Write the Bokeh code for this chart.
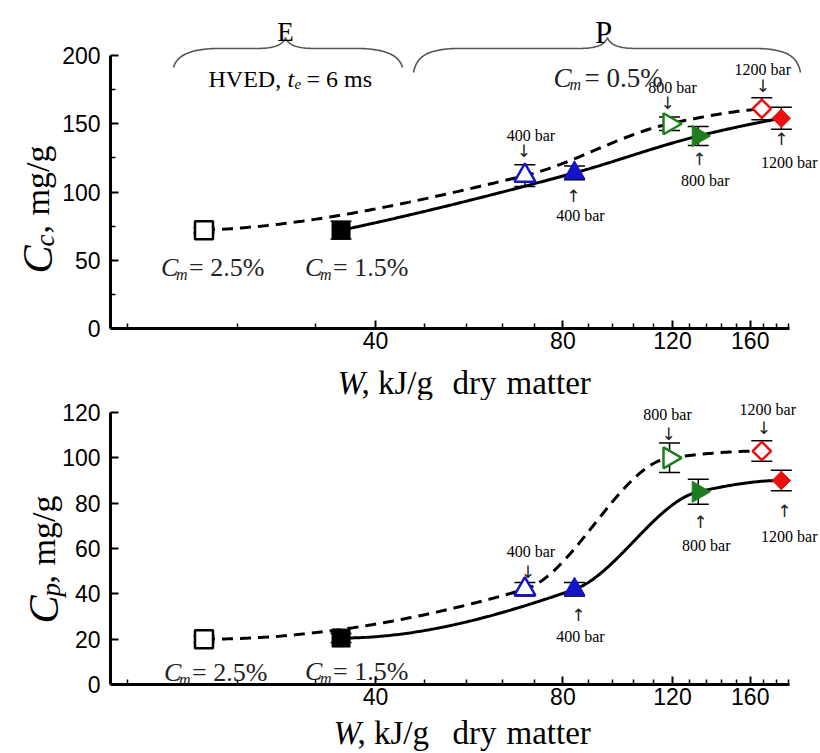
import numpy as np
from bokeh.plotting import figure
from bokeh.models import ColumnDataSource, FixedTicker, PrintfTickFormatter, Whisker, TeeHead, LogAxis, LinearAxis
from bokeh.layouts import column
from bokeh.embed import file_html
from bokeh.resources import INLINE
from bokeh.core.properties import value

# ---------------- data ----------------
# order of points: [HVED (square), 400 bar, 800 bar, 1200 bar]
W_open = [21.2, 69.5, 118.7, 167.0]       # kJ/g dry matter, open symbols (dashed curve)
W_filled = [35.2, 83.5, 132.0, 179.5]     # kJ/g dry matter, filled symbols (solid curve)
Cc_open = [72, 112, 150, 161]
Cc_open_err = [2, 8, 5, 8]
Cc_filled = [72, 114, 141, 154]
Cc_filled_err = [6.5, 5, 7, 8]
Cp_open = [20, 42, 100, 103]
Cp_open_err = [1.5, 3, 6.5, 4.5]
Cp_filled = [20.5, 42, 85, 90]
Cp_filled_err = [2, 3, 5.5, 4.5]
pressures = ["400 bar", "800 bar", "1200 bar"]
cm_hved = ["2.5%", "1.5%"]
cm_pef = "0.5%"
x_major = [40, 80, 120, 160]
x_minor = [16, 24, 32, 48, 56, 64, 72, 88, 96, 104, 112, 128, 136, 144, 152, 168, 176, 184]
yc_major = [0, 50, 100, 150, 200]
yc_minor = [25, 75, 125, 175]
yp_major = [0, 20, 40, 60, 80, 100, 120]

# ---------------- styles / layout ----------------
colors = ["black", "#1414C8", "#1E7D1E", "#EA1010"]
markers = ["square", "triangle", "triangle", "square"]
angles = [0.0, 0.0, -np.pi / 2, np.pi / 4]
sizes = [18, 21, 21, 13]
SERIF = "Liberation Serif"
SANS = "Liberation Sans"

WIDTH = 820
TOP_H = 400
BOT_H = 353
X_AX0, X_AX1 = 15, 185
PX_DEC = 622.3
TOP_PXU = 273 / 200.0
BOT_PXU = 272 / 120.0


def px2x(px):
    return X_AX0 * 10 ** ((px - 110) / PX_DEC)


def top_y(py):
    return (328 - py) / TOP_PXU


def bot_y(py):
    return (684 - py) / BOT_PXU


def pchip(x, y, xq):
    x = np.asarray(x, float)
    y = np.asarray(y, float)
    h = np.diff(x)
    d = np.diff(y) / h
    n = len(x)
    m = np.zeros(n)
    for k in range(1, n - 1):
        if d[k - 1] * d[k] > 0:
            w1 = 2 * h[k] + h[k - 1]
            w2 = h[k] + 2 * h[k - 1]
            m[k] = (w1 + w2) / (w1 / d[k - 1] + w2 / d[k])

    def end(h0, h1, d0, d1):
        mm = ((2 * h0 + h1) * d0 - h0 * d1) / (h0 + h1)
        if np.sign(mm) != np.sign(d0):
            mm = 0.0
        elif np.sign(d0) != np.sign(d1) and abs(mm) > abs(3 * d0):
            mm = 3 * d0
        return mm

    m[0] = end(h[0], h[1], d[0], d[1])
    m[-1] = end(h[-1], h[-2], d[-1], d[-2])
    idx = np.clip(np.searchsorted(x, xq) - 1, 0, n - 2)
    t = (xq - x[idx]) / h[idx]
    h00 = 2 * t**3 - 3 * t**2 + 1
    h10 = t**3 - 2 * t**2 + t
    h01 = -2 * t**3 + 3 * t**2
    h11 = t**3 - t**2
    return h00 * y[idx] + h10 * h[idx] * m[idx] + h01 * y[idx + 1] + h11 * h[idx] * m[idx + 1]


def smooth(xs, ys):
    u = np.log10(xs)
    uq = np.linspace(u[0], u[-1], 240)
    return 10 ** uq, pchip(u, ys, uq)


def gtext(p, x, y, text, size, italic=False, align="left", baseline="alphabetic", dx=0, dy=0,
          font=SERIF, color="black", angle=0.0):
    p.text(x=[x], y=[y], text=[text], x_offset=dx, y_offset=dy, angle=angle, text_font=value(font),
           text_font_size=f"{size}px", text_font_style="italic" if italic else "normal",
           text_align=align, text_baseline=baseline, text_color=color)


def style_axis(ax):
    ax.axis_line_width = 3
    ax.axis_line_color = "black"
    ax.major_tick_in = 8
    ax.major_tick_out = 0
    ax.minor_tick_in = 5
    ax.minor_tick_out = 0
    ax.major_tick_line_width = 2
    ax.minor_tick_line_width = 1.5
    ax.major_tick_line_color = "black"
    ax.minor_tick_line_color = "black"
    ax.major_label_text_font = SANS
    ax.major_label_text_font_size = "23px"
    ax.major_label_text_color = "black"


def make_fig(height, ymap, ybounds, yticks, yminor):
    p = figure(width=WIDTH, height=height, x_axis_type="log",
               x_range=(px2x(0), px2x(WIDTH)), y_range=(ymap(height), ymap(0)),
               x_axis_location=None, y_axis_location=None,
               output_backend="svg", toolbar_location=None,
               min_border=0, min_border_left=0, min_border_right=0, min_border_top=0, min_border_bottom=0)
    p.outline_line_color = None
    p.xgrid.visible = False
    p.ygrid.visible = False
    xa = LogAxis(ticker=FixedTicker(ticks=x_major, minor_ticks=x_minor),
                 formatter=PrintfTickFormatter(format="%d"), fixed_location=0, bounds=(X_AX0, X_AX1))
    ya = LinearAxis(ticker=FixedTicker(ticks=yticks, minor_ticks=yminor), fixed_location=X_AX0, bounds=ybounds)
    style_axis(xa)
    style_axis(ya)
    xa.major_label_standoff = 3
    ya.major_label_standoff = 10
    p.add_layout(xa, "below")
    p.add_layout(ya, "left")
    return p


def cm_label(p, x, y, txt, dx, dy, size=26):
    gtext(p, x, y, "C", size, italic=True, dx=dx, dy=dy, color="#222222")
    gtext(p, x, y, "m", 16, italic=True, dx=dx + 15, dy=dy + 7, color="#222222")
    gtext(p, x, y, "= " + txt, size, dx=dx + 28, dy=dy, color="#222222")


def draw_panel(p, yo, yo_err, yf, yf_err, lab):
    # error bars
    for xs, ys, es in ((W_open, yo, yo_err), (W_filled, yf, yf_err)):
        src = ColumnDataSource(dict(x=xs, lo=[a - b for a, b in zip(ys, es)], hi=[a + b for a, b in zip(ys, es)]))
        w = Whisker(base="x", lower="lo", upper="hi", source=src, line_color="black", line_width=1.5,
                    upper_head=TeeHead(size=21, line_width=1.5, line_color="black"),
                    lower_head=TeeHead(size=21, line_width=1.5, line_color="black"), level="underlay")
        p.add_layout(w)
    # curves
    cx, cy = smooth(W_open, yo)
    p.line(cx, cy, line_color="black", line_width=3, line_dash="11 7")
    cx, cy = smooth(W_filled, yf)
    p.line(cx, cy, line_color="black", line_width=3)
    # markers
    src_o = ColumnDataSource(dict(x=W_open, y=yo, m=markers, a=angles, c=colors, s=sizes))
    p.scatter("x", "y", source=src_o, marker="m", angle="a", size="s", line_color="c",
              fill_color="white", line_width=2.5)
    src_f = ColumnDataSource(dict(x=W_filled, y=yf, m=markers, a=angles, c=colors, s=sizes))
    p.scatter("x", "y", source=src_f, marker="m", angle="a", size="s", line_color="c",
              fill_color="c", line_width=1)
    # pressure annotations
    for i, txt in enumerate(pressures):
        tdx, tdy, adx, ady = lab["open"][i]
        gtext(p, W_open[i + 1], yo[i + 1], txt, 16, align="center", baseline="middle", dx=tdx, dy=tdy)
        gtext(p, W_open[i + 1], yo[i + 1], "\u2193", 17, align="center", baseline="middle", dx=adx, dy=ady,
              font="DejaVu Sans", color="#222222")
        tdx, tdy, adx, ady = lab["filled"][i]
        gtext(p, W_filled[i + 1], yf[i + 1], txt, 16, align="center", baseline="middle", dx=tdx, dy=tdy)
        gtext(p, W_filled[i + 1], yf[i + 1], "\u2191", 17, align="center", baseline="middle", dx=adx, dy=ady,
              font="DejaVu Sans", color="#222222")
    # Cm labels for the HVED points
    cm_label(p, W_open[0], yo[0], cm_hved[0], *lab["cm"][0])
    cm_label(p, W_filled[0], yf[0], cm_hved[1], *lab["cm"][1])


def brace(p, xl, xm, xr, ye, ym, yt, ymap):
    def cubic(p0, p1, p2, p3, n=30):
        t = np.linspace(0, 1, n)[:, None]
        P = [np.array(q, float) for q in (p0, p1, p2, p3)]
        return ((1 - t) ** 3) * P[0] + 3 * ((1 - t) ** 2) * t * P[1] + 3 * (1 - t) * t**2 * P[2] + t**3 * P[3]

    segs = [
        cubic((xl, ye), (xl + 3, ym + 9), (xl + 12, ym + 1), (xl + 42, ym)),
        cubic((xm - 30, ym), (xm - 12, ym), (xm - 3, ym - 3), (xm, yt)),
        cubic((xm, yt), (xm + 3, ym - 3), (xm + 12, ym), (xm + 30, ym)),
        cubic((xr - 42, ym), (xr - 12, ym + 1), (xr - 3, ym + 9), (xr, ye)),
    ]
    pts = np.vstack(segs)
    p.line([px2x(v) for v in pts[:, 0]], [ymap(v) for v in pts[:, 1]], line_color="#555555", line_width=1.6)


def axis_titles(p, ymap, base_w, sub, c_base, c_start):
    # x title
    fs = 33
    gtext(p, px2x(base_w[0]), ymap(base_w[1]), "W", fs, italic=True)
    gtext(p, px2x(base_w[0] + 24), ymap(base_w[1]), ", kJ/g", fs)
    gtext(p, px2x(452), ymap(base_w[1]), "dry", fs)
    gtext(p, px2x(506), ymap(base_w[1]), "matter", fs)
    # y title (rotated)
    r = np.pi / 2
    gtext(p, px2x(c_base), ymap(c_start), "C", 42, italic=True, angle=r)
    gtext(p, px2x(c_base + 7), ymap(c_start - 27), sub, 27, italic=True, angle=r)
    gtext(p, px2x(c_base), ymap(c_start - 40), ",", 34, angle=r)
    gtext(p, px2x(c_base), ymap(c_start - 58), "mg/g", 34, angle=r)


# ---------------- top panel: Cc ----------------
p1 = make_fig(TOP_H, top_y, (0, 200), yc_major, yc_minor)
lab_top = dict(
    open=[(6, -40, -1, -25), (3, -36, -2, -21), (1, -39, 1, -23)],
    filled=[(6, 43, -1, 23), (7, 44, 1, 23), (8, 44, 0, 21)],
    cm=[(-43, 37), (-36, 37)],
)
draw_panel(p1, Cc_open, Cc_open_err, Cc_filled, Cc_filled_err, lab_top)

brace(p1, 173, 285, 402, 67, 48, 37, top_y)
brace(p1, 413, 607, 800, 72, 48, 37, top_y)
gtext(p1, px2x(285), top_y(31), "E", 27, align="center")
gtext(p1, px2x(603), top_y(32), "P", 31, align="center")
gtext(p1, px2x(208), top_y(78), "HVED,", 24)
gtext(p1, px2x(287), top_y(78), "t", 24, italic=True)
gtext(p1, px2x(294), top_y(83), "e", 15, italic=True)
gtext(p1, px2x(306), top_y(78), "= 6 ms", 24)
gtext(p1, px2x(553), top_y(77), "C", 27, italic=True, color="#222222")
gtext(p1, px2x(569), top_y(84), "m", 16, italic=True, color="#222222")
gtext(p1, px2x(584), top_y(77), "= " + cm_pef, 27, color="#222222")
axis_titles(p1, top_y, (337, 382), "c", 37, 273)


# ---------------- bottom panel: Cp ----------------
def bot_local(py):
    return bot_y(py + TOP_H)


p2 = make_fig(BOT_H, bot_local, (0, 120), yp_major, [])
lab_bot = dict(
    open=[(6, -38, 3, -17), (-2, -43, -1, -24), (6, -42, 2, -23)],
    filled=[(6, 47, 4, 26), (8, 54, 2, 30), (8, 56, 3, 30)],
    cm=[(-40, 33), (-36, 33)],
)
draw_panel(p2, Cp_open, Cp_open_err, Cp_filled, Cp_filled_err, lab_bot)
axis_titles(p2, bot_y, (333, 732), "p", 43, 623)

layout = column(p1, p2, spacing=0)
open("out.html", "w").write(file_html(layout, INLINE))
